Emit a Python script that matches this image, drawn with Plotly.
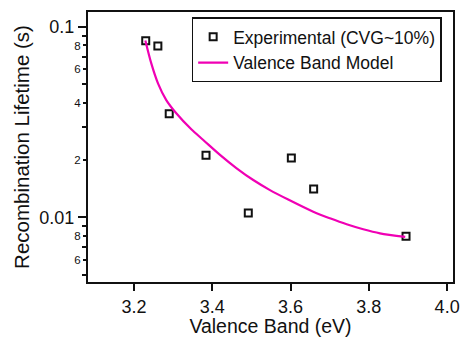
import plotly.graph_objects as go

# Measured recombination lifetimes
exp_vb = [3.230, 3.261, 3.290, 3.384, 3.492, 3.602, 3.659, 3.895]
exp_tau = [0.0847, 0.0795, 0.0350, 0.0212, 0.01055, 0.0205, 0.0141, 0.00794]

# Valence band model curve (sampled)
model_vb = [3.229, 3.2442, 3.2613, 3.2825, 3.308, 3.3464, 3.377, 3.4197, 3.4623,
            3.5047, 3.5474, 3.594, 3.658, 3.7006, 3.7433, 3.7857, 3.8284, 3.893]
model_tau = [0.0850, 0.0644, 0.0506, 0.0413, 0.0352, 0.0290, 0.0255, 0.0213, 0.0181,
             0.0157, 0.0139, 0.0124, 0.0107, 0.00988, 0.00919, 0.00865, 0.00824, 0.00790]

x_ticks = [3.2, 3.4, 3.6, 3.8, 4.0]
x_ticktext = ["3.2", "3.4", "3.6", "3.8", "4.0"]
y_major = [0.1, 0.01]
y_major_text = ["0.1", "0.01"]
y_minor_labeled = [0.08, 0.06, 0.04, 0.02, 0.008, 0.006]
y_minor_labeled_text = ["8", "6", "4", "2", "8", "6"]
y_minor_plain = [0.09, 0.07, 0.05, 0.03, 0.009, 0.007, 0.005]

font = "Liberation Sans, Arial, sans-serif"
y_range = [-2.34, -0.921]

fig = go.Figure()
fig.add_trace(go.Scatter(
    x=exp_vb, y=exp_tau, mode="markers", name="Experimental (CVG~10%)",
    marker=dict(symbol="square-open", size=7, color="#111111", line=dict(width=2, color="#111111")),
))
fig.add_trace(go.Scatter(
    x=model_vb, y=model_tau, mode="lines", name="Valence Band Model",
    line=dict(color="#f000b4", width=2.2, shape="spline", smoothing=0.8),
))
# invisible trace carrying the labelled minor ticks axis
fig.add_trace(go.Scatter(x=[3.5], y=[0.02], yaxis="y2", mode="markers",
                         marker=dict(opacity=0), showlegend=False, hoverinfo="skip"))

fig.update_layout(
    width=463, height=337,
    margin=dict(l=88, r=10, t=12, b=55),
    paper_bgcolor="white", plot_bgcolor="white",
    font=dict(family=font, color="#111111"),
    showlegend=True,
    legend=dict(
        x=0.284, y=0.98, xanchor="left", yanchor="top",
        bgcolor="white", bordercolor="#111111", borderwidth=1.5,
        font=dict(size=17.5, family=font),
        tracegroupgap=0, itemwidth=30,
    ),
    xaxis=dict(
        range=[3.0825, 4.015], tickvals=x_ticks, ticktext=x_ticktext,
        ticks="outside", ticklen=7, tickwidth=1.5, tickcolor="#111111",
        tickfont=dict(size=18), showgrid=False, zeroline=False,
        showline=True, linecolor="#111111", linewidth=2, mirror=True,
        automargin=False,
        title=dict(text="Valence Band (eV)", font=dict(size=19.5), standoff=10),
    ),
    yaxis=dict(
        type="log", range=y_range, tickvals=y_major, ticktext=y_major_text,
        ticks="outside", ticklen=8, tickwidth=1.5, tickcolor="#111111",
        tickfont=dict(size=18), showgrid=False, zeroline=False,
        showline=True, linecolor="#111111", linewidth=2, mirror=True,
        automargin=False,
        minor=dict(tickvals=y_minor_plain, ticks="outside", ticklen=4,
                   tickwidth=1.5, tickcolor="#111111", showgrid=False),
        title=dict(text="Recombination Lifetime (s)", font=dict(size=20.5), standoff=4),
    ),
    yaxis2=dict(
        type="log", range=y_range, overlaying="y", side="left",
        tickvals=y_minor_labeled, ticktext=y_minor_labeled_text,
        ticks="outside", ticklen=4, tickwidth=1.5, tickcolor="#111111",
        tickfont=dict(size=11.5), showgrid=False, zeroline=False, showline=False,
        automargin=False,
    ),
)

fig.write_html("out.html")
